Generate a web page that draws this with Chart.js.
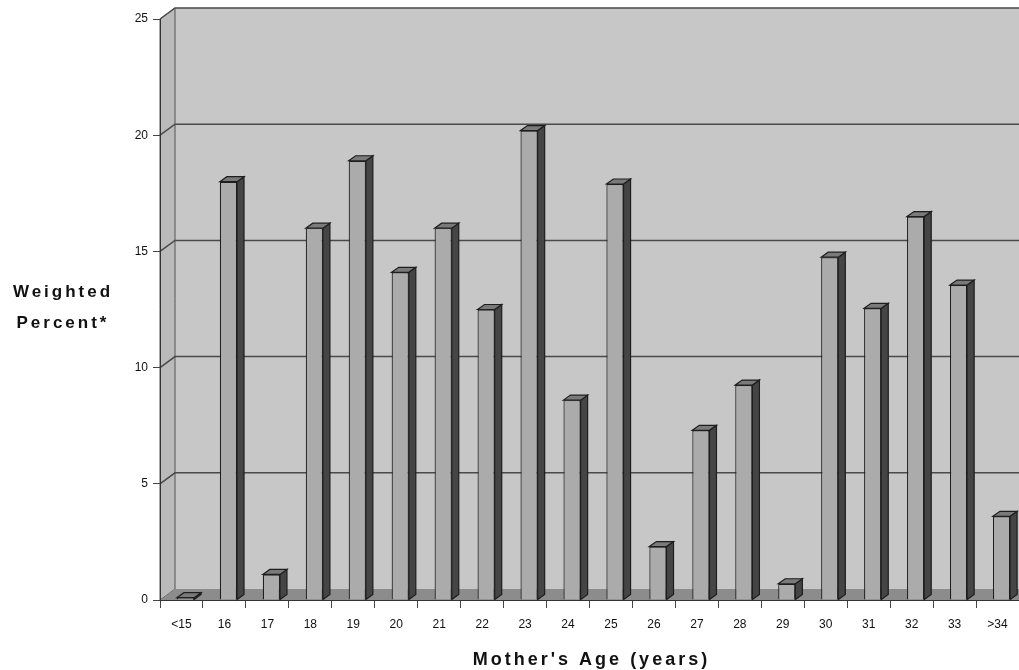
<!DOCTYPE html>
<html>
<head>
<meta charset="utf-8">
<script src="https://cdn.jsdelivr.net/npm/chart.js@4.4.1/dist/chart.umd.min.js"></script>
<style>
  html, body { margin:0; padding:0; background:#fff; }
</style>
</head>
<body>
<canvas id="ageChart" width="1019" height="670"></canvas>
<script>
// ── Data ─────────────────────────────────────────────────────
const ages        = ['<15','16','17','18','19','20','21','22','23','24','25','26','27','28','29','30','31','32','33','>34'];
const weightedPct = [0.1, 18.0, 1.1, 16.0, 18.9, 14.1, 16.0, 12.5, 20.2, 8.6, 17.9, 2.3, 7.3, 9.25, 0.7, 14.75, 12.55, 16.5, 13.55, 3.6];
const yTicks      = [0, 5, 10, 15, 20, 25];
const yTitle      = ['Weighted', 'Percent*'];
const xTitle      = "Mother's Age (years)";

// ── 3D look ──────────────────────────────────────────────────
const WALL_DX = 15, WALL_DY = -11;   // depth of the wall box
const BAR_DX  = 7,  BAR_DY  = -5;    // depth of one column
const BAR_SHIFT = 4;                 // columns sit a bit right of the label
const FONT    = '"Liberation Sans", Arial, sans-serif';

function poly(ctx, pts, fill, stroke) {
  ctx.beginPath();
  pts.forEach((p,i) => i ? ctx.lineTo(p[0],p[1]) : ctx.moveTo(p[0],p[1]));
  ctx.closePath();
  if (fill)   { ctx.fillStyle = fill; ctx.fill(); }
  if (stroke) { ctx.strokeStyle = stroke; ctx.stroke(); }
}

// walls, floor and back gridlines
const wallPlugin = {
  id: 'walls',
  beforeDraw(chart) {
    const { ctx, chartArea:a, scales:{ y } } = chart;
    const L = a.left, R = chart.width, T = a.top, B = a.bottom;
    ctx.save();
    ctx.lineWidth = 1;
    poly(ctx, [[L+WALL_DX,T+WALL_DY],[R,T+WALL_DY],[R,B+WALL_DY],[L+WALL_DX,B+WALL_DY]], '#c7c7c7');
    poly(ctx, [[L,T],[L+WALL_DX,T+WALL_DY],[L+WALL_DX,B+WALL_DY],[L,B]], '#bababa', '#555');
    poly(ctx, [[L,B],[L+WALL_DX,B+WALL_DY],[R,B+WALL_DY],[R,B]], '#8c8c8c');

    ctx.strokeStyle = '#4a4a4a';
    ctx.lineWidth = 1.5;
    yTicks.forEach(v => {
      if (v === 0) return;
      const py = y.getPixelForValue(v);
      ctx.beginPath();
      ctx.moveTo(L, py);
      ctx.lineTo(L+WALL_DX, py+WALL_DY);
      ctx.lineTo(R, py+WALL_DY);
      ctx.stroke();
    });
    ctx.restore();
  }
};

// shift the columns, then add side and top faces
const columnPlugin = {
  id: 'columns',
  beforeDatasetsDraw(chart) {
    chart.ctx.save();
    chart.ctx.translate(BAR_SHIFT, 0);
  },
  afterDatasetsDraw(chart) {
    const ctx = chart.ctx;
    ctx.lineWidth = 1.2;
    chart.getDatasetMeta(0).data.forEach(bar => {
      const { x, y, base, width } = bar.getProps(['x','y','base','width'], true);
      const l = x - width/2, r = x + width/2;
      poly(ctx, [[r,y],[r+BAR_DX,y+BAR_DY],[r+BAR_DX,base+BAR_DY],[r,base]], '#454545', '#1e1e1e');
      poly(ctx, [[l,y],[l+BAR_DX,y+BAR_DY],[r+BAR_DX,y+BAR_DY],[r,y]], '#7a7a7a', '#1e1e1e');
    });
    ctx.restore();
  }
};

// horizontal axis titles
const titlePlugin = {
  id: 'titles',
  afterDraw(chart) {
    const { ctx, chartArea:a } = chart;
    ctx.save();
    ctx.fillStyle = '#111';
    ctx.font = `bold 17px ${FONT}`;
    ctx.textAlign = 'center';
    ctx.textBaseline = 'alphabetic';
    ctx.letterSpacing = '3px';
    ctx.fillText(yTitle[0], 63, 297);
    ctx.fillText(yTitle[1], 63, 328);
    ctx.font = `bold 18px ${FONT}`;
    ctx.fillText(xTitle, (a.left + chart.width)/2 + 2, 665);
    ctx.restore();
  }
};

new Chart(document.getElementById('ageChart'), {
  type: 'bar',
  data: {
    labels: ages,
    datasets: [{
      data: weightedPct,
      backgroundColor: '#ababab',
      borderColor: '#1e1e1e',
      borderWidth: 1.2,
      barPercentage: 0.8,
      categoryPercentage: 0.5
    }]
  },
  options: {
    responsive: false,
    animation: false,
    layout: { padding: { top:19, right:0, bottom:0, left:0 } },
    plugins: { legend:{ display:false }, tooltip:{ enabled:false } },
    scales: {
      x: {
        grid:   { drawOnChartArea:false, tickLength:8, color:'#444', offset:true },
        border: { color:'#333' },
        ticks:  { color:'#111', font:{ family:FONT, size:12 }, padding:9, maxRotation:0, autoSkip:false },
        afterFit: s => { s.height = 70; }
      },
      y: {
        min: 0, max: 25,
        afterBuildTicks: s => { s.ticks = yTicks.map(v => ({ value:v })); },
        grid:   { drawOnChartArea:false, tickLength:7, color:'#444' },
        border: { color:'#333' },
        ticks:  { color:'#111', font:{ family:FONT, size:12 }, padding:5 },
        afterFit: s => { s.width = 160; }
      }
    }
  },
  plugins: [wallPlugin, columnPlugin, titlePlugin]
});
</script>
</body>
</html>
